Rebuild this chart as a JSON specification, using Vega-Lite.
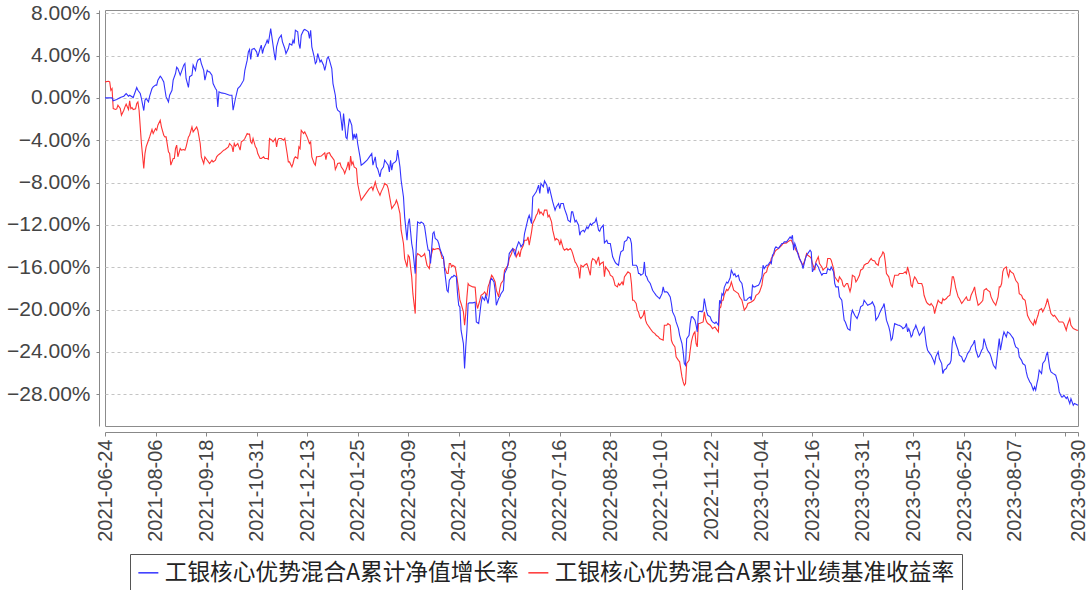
{
"$schema":"https://vega.github.io/schema/vega-lite/v6.json",
"width":973,"height":416,
"autosize":{"type":"none"},
"padding":{"left":105,"top":10,"right":13,"bottom":164},
"background":"white",
"config":{"view":{"stroke":"#8c8c8c","strokeWidth":1},"font":"Liberation Sans"},
"datasets":{
"fund":[
{"date":"2021-06-24","value":0},{"date":"2021-06-30","value":0},{"date":"2021-07-01","value":-0.28},{"date":"2021-07-04","value":-0.16},{"date":"2021-07-07","value":0.03},{"date":"2021-07-10","value":0.16},{"date":"2021-07-12","value":0.41},{"date":"2021-07-14","value":0.16},{"date":"2021-07-15","value":0.25},{"date":"2021-07-18","value":0.03},{"date":"2021-07-21","value":0.97},{"date":"2021-07-22","value":0.72},{"date":"2021-07-24","value":0.41},{"date":"2021-07-25","value":-0.06},{"date":"2021-07-27","value":-1.2},{"date":"2021-07-28","value":-0.22},{"date":"2021-07-29","value":-0.06},{"date":"2021-07-31","value":-0.38},{"date":"2021-08-01","value":0.16},{"date":"2021-08-03","value":0.88},{"date":"2021-08-04","value":1.04},{"date":"2021-08-06","value":1.2},{"date":"2021-08-07","value":1.2},{"date":"2021-08-08","value":1.67},{"date":"2021-08-10","value":2.05},{"date":"2021-08-11","value":1.92},{"date":"2021-08-13","value":1.5},{"date":"2021-08-14","value":0.79},{"date":"2021-08-15","value":0.09},{"date":"2021-08-17","value":-0.38},{"date":"2021-08-18","value":0.25},{"date":"2021-08-20","value":0.72},{"date":"2021-08-21","value":1.67},{"date":"2021-08-23","value":2.3},{"date":"2021-08-24","value":2.9},{"date":"2021-08-25","value":2.77},{"date":"2021-08-27","value":2.14},{"date":"2021-08-28","value":2.46},{"date":"2021-08-30","value":3.09},{"date":"2021-08-31","value":3.24},{"date":"2021-09-01","value":1.83},{"date":"2021-09-03","value":0.98},{"date":"2021-09-04","value":2.0},{"date":"2021-09-06","value":2.14},{"date":"2021-09-07","value":3.09},{"date":"2021-09-09","value":2.6},{"date":"2021-09-10","value":3.24},{"date":"2021-09-11","value":3.56},{"date":"2021-09-13","value":3.7},{"date":"2021-09-14","value":3.24},{"date":"2021-09-16","value":2.6},{"date":"2021-09-17","value":1.67},{"date":"2021-09-19","value":2.6},{"date":"2021-09-20","value":2.46},{"date":"2021-09-21","value":2.46},{"date":"2021-09-23","value":2.14},{"date":"2021-09-24","value":1.35},{"date":"2021-09-26","value":0.88},{"date":"2021-09-27","value":0.72},{"date":"2021-09-28","value":-0.85},{"date":"2021-09-29","value":0.57},{"date":"2021-10-01","value":0.47},{"date":"2021-10-04","value":0.41},{"date":"2021-10-08","value":0.25},{"date":"2021-10-10","value":0.25},{"date":"2021-10-11","value":-1.17},{"date":"2021-10-13","value":-0.06},{"date":"2021-10-15","value":0.88},{"date":"2021-10-17","value":1.1},{"date":"2021-10-20","value":1.67},{"date":"2021-10-21","value":2.6},{"date":"2021-10-23","value":3.56},{"date":"2021-10-24","value":4.35},{"date":"2021-10-25","value":4.57},{"date":"2021-10-26","value":3.62},{"date":"2021-10-27","value":4.57},{"date":"2021-10-29","value":4.66},{"date":"2021-10-31","value":4.35},{"date":"2021-11-01","value":3.87},{"date":"2021-11-03","value":4.66},{"date":"2021-11-04","value":4.98},{"date":"2021-11-05","value":4.19},{"date":"2021-11-06","value":4.66},{"date":"2021-11-08","value":5.13},{"date":"2021-11-09","value":5.45},{"date":"2021-11-10","value":5.13},{"date":"2021-11-12","value":6.54},{"date":"2021-11-13","value":5.76},{"date":"2021-11-15","value":4.19},{"date":"2021-11-16","value":3.56},{"date":"2021-11-17","value":4.82},{"date":"2021-11-19","value":5.61},{"date":"2021-11-21","value":5.92},{"date":"2021-11-22","value":5.29},{"date":"2021-11-24","value":4.66},{"date":"2021-11-25","value":4.19},{"date":"2021-11-27","value":4.66},{"date":"2021-11-28","value":5.13},{"date":"2021-11-30","value":4.98},{"date":"2021-12-01","value":5.45},{"date":"2021-12-02","value":5.13},{"date":"2021-12-03","value":6.39},{"date":"2021-12-05","value":6.24},{"date":"2021-12-06","value":5.13},{"date":"2021-12-07","value":4.66},{"date":"2021-12-08","value":5.92},{"date":"2021-12-10","value":6.39},{"date":"2021-12-11","value":6.46},{"date":"2021-12-13","value":6.33},{"date":"2021-12-14","value":6.24},{"date":"2021-12-15","value":5.61},{"date":"2021-12-16","value":6.39},{"date":"2021-12-17","value":4.82},{"date":"2021-12-19","value":3.87},{"date":"2021-12-20","value":3.24},{"date":"2021-12-21","value":3.4},{"date":"2021-12-22","value":4.19},{"date":"2021-12-24","value":3.4},{"date":"2021-12-25","value":3.56},{"date":"2021-12-27","value":3.09},{"date":"2021-12-28","value":2.6},{"date":"2021-12-29","value":3.09},{"date":"2021-12-30","value":3.72},{"date":"2021-12-31","value":3.87},{"date":"2022-01-01","value":3.56},{"date":"2022-01-03","value":2.77},{"date":"2022-01-04","value":1.35},{"date":"2022-01-06","value":0.25},{"date":"2022-01-07","value":-0.85},{"date":"2022-01-08","value":-1.17},{"date":"2022-01-10","value":-1.33},{"date":"2022-01-11","value":-2.14},{"date":"2022-01-12","value":-3.09},{"date":"2022-01-13","value":-1.48},{"date":"2022-01-14","value":-2.6},{"date":"2022-01-15","value":-3.72},{"date":"2022-01-16","value":-3.87},{"date":"2022-01-17","value":-2.74},{"date":"2022-01-18","value":-1.96},{"date":"2022-01-20","value":-2.6},{"date":"2022-01-21","value":-3.97},{"date":"2022-01-22","value":-3.4},{"date":"2022-01-23","value":-3.84},{"date":"2022-01-24","value":-3.37},{"date":"2022-01-25","value":-4.31},{"date":"2022-01-27","value":-5.57},{"date":"2022-01-28","value":-6.36},{"date":"2022-01-30","value":-6.2},{"date":"2022-02-02","value":-5.89},{"date":"2022-02-04","value":-5.57},{"date":"2022-02-06","value":-5.26},{"date":"2022-02-07","value":-6.36},{"date":"2022-02-09","value":-5.57},{"date":"2022-02-10","value":-6.52},{"date":"2022-02-11","value":-6.68},{"date":"2022-02-13","value":-7.46},{"date":"2022-02-14","value":-6.83},{"date":"2022-02-16","value":-6.52},{"date":"2022-02-17","value":-5.89},{"date":"2022-02-19","value":-6.2},{"date":"2022-02-20","value":-6.36},{"date":"2022-02-21","value":-6.99},{"date":"2022-02-22","value":-5.89},{"date":"2022-02-23","value":-6.83},{"date":"2022-02-24","value":-6.2},{"date":"2022-02-26","value":-6.05},{"date":"2022-02-27","value":-5.89},{"date":"2022-02-28","value":-4.94},{"date":"2022-03-02","value":-6.52},{"date":"2022-03-03","value":-7.78},{"date":"2022-03-05","value":-9.36},{"date":"2022-03-06","value":-11.24},{"date":"2022-03-08","value":-13.45},{"date":"2022-03-09","value":-11.87},{"date":"2022-03-10","value":-11.4},{"date":"2022-03-12","value":-13.76},{"date":"2022-03-13","value":-14.39},{"date":"2022-03-15","value":-16.6},{"date":"2022-03-16","value":-13.76},{"date":"2022-03-17","value":-11.72},{"date":"2022-03-19","value":-11.87},{"date":"2022-03-20","value":-11.72},{"date":"2022-03-22","value":-11.87},{"date":"2022-03-23","value":-12.19},{"date":"2022-03-25","value":-13.76},{"date":"2022-03-26","value":-14.39},{"date":"2022-03-27","value":-14.39},{"date":"2022-03-28","value":-15.65},{"date":"2022-03-30","value":-12.82},{"date":"2022-03-31","value":-12.66},{"date":"2022-04-01","value":-13.29},{"date":"2022-04-03","value":-13.45},{"date":"2022-04-04","value":-13.76},{"date":"2022-04-05","value":-14.24},{"date":"2022-04-07","value":-14.87},{"date":"2022-04-08","value":-15.02},{"date":"2022-04-09","value":-16.28},{"date":"2022-04-11","value":-18.17},{"date":"2022-04-12","value":-18.33},{"date":"2022-04-13","value":-17.23},{"date":"2022-04-14","value":-17.07},{"date":"2022-04-15","value":-16.91},{"date":"2022-04-16","value":-16.91},{"date":"2022-04-17","value":-16.76},{"date":"2022-04-19","value":-16.91},{"date":"2022-04-20","value":-18.5},{"date":"2022-04-21","value":-19.59},{"date":"2022-04-22","value":-19.75},{"date":"2022-04-23","value":-21.95},{"date":"2022-04-25","value":-23.21},{"date":"2022-04-26","value":-25.57},{"date":"2022-04-27","value":-23.53},{"date":"2022-04-28","value":-21.95},{"date":"2022-04-29","value":-19.43},{"date":"2022-04-30","value":-19.37},{"date":"2022-05-03","value":-19.37},{"date":"2022-05-05","value":-19.3},{"date":"2022-05-06","value":-21.17},{"date":"2022-05-08","value":-21.32},{"date":"2022-05-10","value":-19.43},{"date":"2022-05-11","value":-18.8},{"date":"2022-05-13","value":-19.12},{"date":"2022-05-14","value":-18.65},{"date":"2022-05-16","value":-19.43},{"date":"2022-05-17","value":-18.65},{"date":"2022-05-18","value":-17.23},{"date":"2022-05-19","value":-17.07},{"date":"2022-05-21","value":-17.39},{"date":"2022-05-22","value":-18.17},{"date":"2022-05-23","value":-19.59},{"date":"2022-05-25","value":-18.96},{"date":"2022-05-26","value":-18.8},{"date":"2022-05-27","value":-18.5},{"date":"2022-05-29","value":-18.17},{"date":"2022-05-30","value":-16.6},{"date":"2022-06-01","value":-16.13},{"date":"2022-06-02","value":-15.65},{"date":"2022-06-03","value":-14.71},{"date":"2022-06-05","value":-14.39},{"date":"2022-06-06","value":-14.24},{"date":"2022-06-08","value":-14.87},{"date":"2022-06-09","value":-14.24},{"date":"2022-06-11","value":-13.61},{"date":"2022-06-12","value":-13.76},{"date":"2022-06-13","value":-14.08},{"date":"2022-06-15","value":-13.76},{"date":"2022-06-16","value":-12.82},{"date":"2022-06-18","value":-11.87},{"date":"2022-06-19","value":-11.4},{"date":"2022-06-20","value":-11.09},{"date":"2022-06-22","value":-11.87},{"date":"2022-06-23","value":-9.35},{"date":"2022-06-25","value":-9.04},{"date":"2022-06-26","value":-8.88},{"date":"2022-06-28","value":-8.25},{"date":"2022-06-29","value":-9.04},{"date":"2022-06-30","value":-8.09},{"date":"2022-07-02","value":-8.41},{"date":"2022-07-03","value":-7.84},{"date":"2022-07-05","value":-8.25},{"date":"2022-07-06","value":-9.04},{"date":"2022-07-07","value":-8.41},{"date":"2022-07-09","value":-9.35},{"date":"2022-07-10","value":-9.83},{"date":"2022-07-12","value":-10.61},{"date":"2022-07-13","value":-10.3},{"date":"2022-07-15","value":-9.98},{"date":"2022-07-16","value":-10.46},{"date":"2022-07-17","value":-9.98},{"date":"2022-07-19","value":-9.98},{"date":"2022-07-20","value":-10.46},{"date":"2022-07-22","value":-11.09},{"date":"2022-07-23","value":-11.56},{"date":"2022-07-25","value":-11.72},{"date":"2022-07-26","value":-10.77},{"date":"2022-07-27","value":-10.77},{"date":"2022-07-29","value":-11.72},{"date":"2022-07-30","value":-11.56},{"date":"2022-08-01","value":-12.03},{"date":"2022-08-02","value":-12.98},{"date":"2022-08-03","value":-12.66},{"date":"2022-08-05","value":-12.5},{"date":"2022-08-06","value":-12.66},{"date":"2022-08-08","value":-12.19},{"date":"2022-08-09","value":-12.35},{"date":"2022-08-11","value":-11.87},{"date":"2022-08-12","value":-12.03},{"date":"2022-08-13","value":-11.87},{"date":"2022-08-15","value":-11.72},{"date":"2022-08-16","value":-11.4},{"date":"2022-08-18","value":-12.5},{"date":"2022-08-19","value":-12.6},{"date":"2022-08-20","value":-12.3},{"date":"2022-08-22","value":-12.03},{"date":"2022-08-23","value":-13.7},{"date":"2022-08-25","value":-13.45},{"date":"2022-08-26","value":-13.76},{"date":"2022-08-28","value":-13.76},{"date":"2022-08-29","value":-14.39},{"date":"2022-08-30","value":-15.02},{"date":"2022-09-01","value":-15.5},{"date":"2022-09-02","value":-15.65},{"date":"2022-09-04","value":-15.81},{"date":"2022-09-05","value":-15.02},{"date":"2022-09-06","value":-14.55},{"date":"2022-09-08","value":-14.39},{"date":"2022-09-09","value":-13.61},{"date":"2022-09-11","value":-13.45},{"date":"2022-09-12","value":-13.13},{"date":"2022-09-14","value":-13.29},{"date":"2022-09-15","value":-13.76},{"date":"2022-09-16","value":-15.81},{"date":"2022-09-17","value":-15.81},{"date":"2022-09-19","value":-15.81},{"date":"2022-09-20","value":-15.97},{"date":"2022-09-21","value":-16.6},{"date":"2022-09-22","value":-16.6},{"date":"2022-09-23","value":-16.76},{"date":"2022-09-25","value":-16.6},{"date":"2022-09-26","value":-15.5},{"date":"2022-09-27","value":-16.76},{"date":"2022-09-28","value":-16.91},{"date":"2022-09-29","value":-17.23},{"date":"2022-10-01","value":-17.54},{"date":"2022-10-02","value":-17.86},{"date":"2022-10-03","value":-18.17},{"date":"2022-10-05","value":-18.5},{"date":"2022-10-06","value":-18.65},{"date":"2022-10-08","value":-18.87},{"date":"2022-10-09","value":-18.96},{"date":"2022-10-11","value":-18.5},{"date":"2022-10-12","value":-17.86},{"date":"2022-10-13","value":-18.33},{"date":"2022-10-15","value":-18.33},{"date":"2022-10-16","value":-18.43},{"date":"2022-10-18","value":-18.8},{"date":"2022-10-19","value":-19.43},{"date":"2022-10-20","value":-20.22},{"date":"2022-10-22","value":-20.69},{"date":"2022-10-23","value":-21.17},{"date":"2022-10-25","value":-21.8},{"date":"2022-10-26","value":-22.43},{"date":"2022-10-28","value":-23.21},{"date":"2022-10-29","value":-24.0},{"date":"2022-10-30","value":-25.1},{"date":"2022-10-31","value":-25.26},{"date":"2022-11-01","value":-22.74},{"date":"2022-11-03","value":-22.43},{"date":"2022-11-04","value":-21.32},{"date":"2022-11-05","value":-20.69},{"date":"2022-11-06","value":-20.69},{"date":"2022-11-08","value":-21.0},{"date":"2022-11-09","value":-21.48},{"date":"2022-11-10","value":-22.11},{"date":"2022-11-11","value":-20.22},{"date":"2022-11-12","value":-20.16},{"date":"2022-11-14","value":-20.22},{"date":"2022-11-15","value":-20.06},{"date":"2022-11-16","value":-18.96},{"date":"2022-11-17","value":-19.59},{"date":"2022-11-18","value":-20.22},{"date":"2022-11-19","value":-20.54},{"date":"2022-11-21","value":-20.69},{"date":"2022-11-22","value":-21.0},{"date":"2022-11-23","value":-21.17},{"date":"2022-11-25","value":-21.32},{"date":"2022-11-26","value":-21.17},{"date":"2022-11-28","value":-21.48},{"date":"2022-11-29","value":-19.12},{"date":"2022-11-30","value":-19.43},{"date":"2022-12-01","value":-18.5},{"date":"2022-12-02","value":-18.65},{"date":"2022-12-03","value":-17.9},{"date":"2022-12-05","value":-17.4},{"date":"2022-12-06","value":-17.5},{"date":"2022-12-08","value":-17.0},{"date":"2022-12-09","value":-16.28},{"date":"2022-12-11","value":-16.76},{"date":"2022-12-12","value":-16.6},{"date":"2022-12-13","value":-16.91},{"date":"2022-12-15","value":-16.76},{"date":"2022-12-16","value":-17.23},{"date":"2022-12-18","value":-17.54},{"date":"2022-12-19","value":-18.17},{"date":"2022-12-20","value":-19.12},{"date":"2022-12-22","value":-19.12},{"date":"2022-12-23","value":-18.96},{"date":"2022-12-25","value":-18.8},{"date":"2022-12-26","value":-19.12},{"date":"2022-12-27","value":-17.7},{"date":"2022-12-28","value":-17.86},{"date":"2022-12-29","value":-17.86},{"date":"2022-12-30","value":-17.8},{"date":"2023-01-01","value":-17.7},{"date":"2023-01-02","value":-17.54},{"date":"2023-01-04","value":-16.91},{"date":"2023-01-05","value":-15.81},{"date":"2023-01-06","value":-16.13},{"date":"2023-01-07","value":-15.97},{"date":"2023-01-08","value":-15.81},{"date":"2023-01-09","value":-15.81},{"date":"2023-01-11","value":-15.5},{"date":"2023-01-12","value":-15.65},{"date":"2023-01-13","value":-14.87},{"date":"2023-01-14","value":-14.71},{"date":"2023-01-15","value":-14.24},{"date":"2023-01-16","value":-14.08},{"date":"2023-01-18","value":-14.24},{"date":"2023-01-19","value":-14.08},{"date":"2023-01-21","value":-13.76},{"date":"2023-01-22","value":-13.76},{"date":"2023-01-23","value":-13.61},{"date":"2023-01-25","value":-13.61},{"date":"2023-01-26","value":-13.45},{"date":"2023-01-28","value":-13.13},{"date":"2023-01-29","value":-13.29},{"date":"2023-01-30","value":-12.98},{"date":"2023-01-31","value":-14.39},{"date":"2023-02-01","value":-13.76},{"date":"2023-02-02","value":-14.08},{"date":"2023-02-04","value":-14.87},{"date":"2023-02-05","value":-15.18},{"date":"2023-02-07","value":-15.65},{"date":"2023-02-08","value":-16.13},{"date":"2023-02-10","value":-15.18},{"date":"2023-02-11","value":-14.87},{"date":"2023-02-12","value":-14.71},{"date":"2023-02-14","value":-14.39},{"date":"2023-02-15","value":-14.55},{"date":"2023-02-16","value":-16.44},{"date":"2023-02-18","value":-15.97},{"date":"2023-02-19","value":-15.65},{"date":"2023-02-21","value":-15.97},{"date":"2023-02-22","value":-16.28},{"date":"2023-02-24","value":-16.76},{"date":"2023-02-25","value":-16.6},{"date":"2023-02-26","value":-16.6},{"date":"2023-02-28","value":-16.6},{"date":"2023-03-01","value":-16.13},{"date":"2023-03-03","value":-16.28},{"date":"2023-03-04","value":-15.97},{"date":"2023-03-06","value":-16.44},{"date":"2023-03-07","value":-17.54},{"date":"2023-03-08","value":-17.86},{"date":"2023-03-10","value":-17.86},{"date":"2023-03-11","value":-18.8},{"date":"2023-03-13","value":-19.12},{"date":"2023-03-14","value":-20.06},{"date":"2023-03-15","value":-21.0},{"date":"2023-03-16","value":-21.17},{"date":"2023-03-17","value":-21.48},{"date":"2023-03-18","value":-21.8},{"date":"2023-03-20","value":-21.95},{"date":"2023-03-21","value":-20.5},{"date":"2023-03-22","value":-20.06},{"date":"2023-03-24","value":-20.54},{"date":"2023-03-25","value":-20.69},{"date":"2023-03-26","value":-20.85},{"date":"2023-03-28","value":-20.22},{"date":"2023-03-29","value":-19.75},{"date":"2023-03-31","value":-19.59},{"date":"2023-04-01","value":-19.12},{"date":"2023-04-03","value":-19.43},{"date":"2023-04-04","value":-19.59},{"date":"2023-04-07","value":-19.43},{"date":"2023-04-08","value":-19.28},{"date":"2023-04-10","value":-19.75},{"date":"2023-04-11","value":-21.0},{"date":"2023-04-13","value":-20.69},{"date":"2023-04-14","value":-20.38},{"date":"2023-04-16","value":-19.9},{"date":"2023-04-17","value":-19.75},{"date":"2023-04-18","value":-19.43},{"date":"2023-04-19","value":-20.22},{"date":"2023-04-20","value":-21.0},{"date":"2023-04-22","value":-21.64},{"date":"2023-04-23","value":-22.11},{"date":"2023-04-24","value":-22.9},{"date":"2023-04-25","value":-22.74},{"date":"2023-04-26","value":-21.95},{"date":"2023-04-27","value":-21.32},{"date":"2023-04-30","value":-21.48},{"date":"2023-05-01","value":-21.48},{"date":"2023-05-03","value":-21.64},{"date":"2023-05-04","value":-21.8},{"date":"2023-05-06","value":-21.64},{"date":"2023-05-07","value":-21.32},{"date":"2023-05-08","value":-22.11},{"date":"2023-05-09","value":-21.8},{"date":"2023-05-10","value":-22.11},{"date":"2023-05-11","value":-22.58},{"date":"2023-05-12","value":-22.43},{"date":"2023-05-13","value":-21.95},{"date":"2023-05-14","value":-21.8},{"date":"2023-05-15","value":-21.48},{"date":"2023-05-17","value":-22.11},{"date":"2023-05-18","value":-22.43},{"date":"2023-05-20","value":-22.11},{"date":"2023-05-21","value":-21.8},{"date":"2023-05-22","value":-21.64},{"date":"2023-05-24","value":-23.37},{"date":"2023-05-25","value":-23.84},{"date":"2023-05-27","value":-24.16},{"date":"2023-05-28","value":-24.31},{"date":"2023-05-30","value":-24.8},{"date":"2023-05-31","value":-25.1},{"date":"2023-06-01","value":-24.47},{"date":"2023-06-03","value":-24.0},{"date":"2023-06-04","value":-24.63},{"date":"2023-06-06","value":-25.1},{"date":"2023-06-07","value":-26.05},{"date":"2023-06-08","value":-25.73},{"date":"2023-06-10","value":-25.57},{"date":"2023-06-11","value":-25.26},{"date":"2023-06-13","value":-25.1},{"date":"2023-06-14","value":-24.8},{"date":"2023-06-15","value":-23.21},{"date":"2023-06-16","value":-22.58},{"date":"2023-06-17","value":-22.74},{"date":"2023-06-18","value":-23.21},{"date":"2023-06-20","value":-23.84},{"date":"2023-06-21","value":-24.31},{"date":"2023-06-23","value":-24.47},{"date":"2023-06-24","value":-24.8},{"date":"2023-06-25","value":-24.94},{"date":"2023-06-27","value":-24.47},{"date":"2023-06-28","value":-24.16},{"date":"2023-06-30","value":-23.84},{"date":"2023-07-01","value":-23.53},{"date":"2023-07-03","value":-23.21},{"date":"2023-07-04","value":-22.9},{"date":"2023-07-05","value":-23.8},{"date":"2023-07-07","value":-24.5},{"date":"2023-07-08","value":-24.4},{"date":"2023-07-10","value":-23.84},{"date":"2023-07-11","value":-23.68},{"date":"2023-07-12","value":-22.74},{"date":"2023-07-14","value":-23.53},{"date":"2023-07-15","value":-23.84},{"date":"2023-07-17","value":-24.16},{"date":"2023-07-18","value":-24.47},{"date":"2023-07-20","value":-25.26},{"date":"2023-07-21","value":-25.42},{"date":"2023-07-22","value":-25.57},{"date":"2023-07-24","value":-23.68},{"date":"2023-07-25","value":-22.74},{"date":"2023-07-26","value":-23.84},{"date":"2023-07-27","value":-23.21},{"date":"2023-07-28","value":-22.58},{"date":"2023-07-29","value":-22.11},{"date":"2023-07-31","value":-22.58},{"date":"2023-08-01","value":-22.11},{"date":"2023-08-03","value":-22.27},{"date":"2023-08-04","value":-22.43},{"date":"2023-08-06","value":-22.74},{"date":"2023-08-07","value":-23.21},{"date":"2023-08-08","value":-23.53},{"date":"2023-08-10","value":-23.68},{"date":"2023-08-11","value":-24.47},{"date":"2023-08-13","value":-24.8},{"date":"2023-08-14","value":-25.1},{"date":"2023-08-16","value":-25.26},{"date":"2023-08-17","value":-25.89},{"date":"2023-08-18","value":-26.36},{"date":"2023-08-20","value":-26.84},{"date":"2023-08-21","value":-26.99},{"date":"2023-08-23","value":-27.62},{"date":"2023-08-24","value":-27.31},{"date":"2023-08-25","value":-27.62},{"date":"2023-08-26","value":-26.99},{"date":"2023-08-27","value":-26.52},{"date":"2023-08-28","value":-25.73},{"date":"2023-08-30","value":-26.05},{"date":"2023-08-31","value":-25.1},{"date":"2023-09-02","value":-24.8},{"date":"2023-09-03","value":-24.31},{"date":"2023-09-04","value":-24.0},{"date":"2023-09-05","value":-24.8},{"date":"2023-09-06","value":-25.57},{"date":"2023-09-07","value":-25.89},{"date":"2023-09-09","value":-26.05},{"date":"2023-09-11","value":-26.2},{"date":"2023-09-13","value":-26.99},{"date":"2023-09-14","value":-27.78},{"date":"2023-09-16","value":-28.25},{"date":"2023-09-17","value":-28.25},{"date":"2023-09-18","value":-28.09},{"date":"2023-09-20","value":-28.41},{"date":"2023-09-21","value":-28.25},{"date":"2023-09-23","value":-28.88},{"date":"2023-09-24","value":-28.41},{"date":"2023-09-26","value":-29.04},{"date":"2023-09-27","value":-28.88},{"date":"2023-09-30","value":-29.04}
],
"benchmark":[
{"date":"2021-06-24","value":1.51},{"date":"2021-06-27","value":1.57},{"date":"2021-06-28","value":1.51},{"date":"2021-06-29","value":0.72},{"date":"2021-06-30","value":0.88},{"date":"2021-07-01","value":-1.01},{"date":"2021-07-03","value":-1.1},{"date":"2021-07-04","value":-1.04},{"date":"2021-07-05","value":-0.69},{"date":"2021-07-07","value":-1.01},{"date":"2021-07-08","value":-1.64},{"date":"2021-07-10","value":-1.17},{"date":"2021-07-11","value":-0.85},{"date":"2021-07-12","value":-0.6},{"date":"2021-07-14","value":-1.1},{"date":"2021-07-15","value":-0.28},{"date":"2021-07-16","value":-1.01},{"date":"2021-07-17","value":-0.91},{"date":"2021-07-18","value":-1.1},{"date":"2021-07-20","value":-1.04},{"date":"2021-07-21","value":-0.54},{"date":"2021-07-22","value":-0.38},{"date":"2021-07-23","value":-1.17},{"date":"2021-07-24","value":-2.74},{"date":"2021-07-25","value":-4.31},{"date":"2021-07-27","value":-6.68},{"date":"2021-07-28","value":-5.26},{"date":"2021-07-29","value":-4.63},{"date":"2021-07-31","value":-4.0},{"date":"2021-08-01","value":-3.69},{"date":"2021-08-03","value":-2.99},{"date":"2021-08-04","value":-3.37},{"date":"2021-08-06","value":-2.9},{"date":"2021-08-07","value":-3.06},{"date":"2021-08-08","value":-2.58},{"date":"2021-08-10","value":-2.11},{"date":"2021-08-11","value":-2.74},{"date":"2021-08-13","value":-3.53},{"date":"2021-08-14","value":-3.69},{"date":"2021-08-15","value":-3.69},{"date":"2021-08-17","value":-5.1},{"date":"2021-08-18","value":-5.26},{"date":"2021-08-19","value":-6.36},{"date":"2021-08-21","value":-5.73},{"date":"2021-08-22","value":-5.73},{"date":"2021-08-23","value":-4.79},{"date":"2021-08-24","value":-4.47},{"date":"2021-08-25","value":-5.57},{"date":"2021-08-27","value":-4.79},{"date":"2021-08-28","value":-4.94},{"date":"2021-08-30","value":-4.88},{"date":"2021-08-31","value":-4.94},{"date":"2021-09-01","value":-4.63},{"date":"2021-09-03","value":-3.69},{"date":"2021-09-04","value":-3.53},{"date":"2021-09-06","value":-2.74},{"date":"2021-09-07","value":-3.21},{"date":"2021-09-09","value":-2.9},{"date":"2021-09-10","value":-2.74},{"date":"2021-09-11","value":-3.06},{"date":"2021-09-13","value":-4.31},{"date":"2021-09-14","value":-5.57},{"date":"2021-09-16","value":-6.2},{"date":"2021-09-17","value":-5.57},{"date":"2021-09-19","value":-5.89},{"date":"2021-09-20","value":-6.05},{"date":"2021-09-21","value":-6.2},{"date":"2021-09-23","value":-5.89},{"date":"2021-09-24","value":-6.05},{"date":"2021-09-26","value":-5.89},{"date":"2021-09-27","value":-5.57},{"date":"2021-09-28","value":-5.43},{"date":"2021-09-30","value":-5.26},{"date":"2021-10-03","value":-4.94},{"date":"2021-10-04","value":-4.9},{"date":"2021-10-07","value":-4.63},{"date":"2021-10-08","value":-4.31},{"date":"2021-10-10","value":-4.57},{"date":"2021-10-11","value":-5.1},{"date":"2021-10-12","value":-4.31},{"date":"2021-10-13","value":-4.57},{"date":"2021-10-15","value":-4.31},{"date":"2021-10-16","value":-4.63},{"date":"2021-10-17","value":-4.94},{"date":"2021-10-18","value":-4.16},{"date":"2021-10-20","value":-4.0},{"date":"2021-10-21","value":-3.84},{"date":"2021-10-23","value":-3.37},{"date":"2021-10-24","value":-3.43},{"date":"2021-10-25","value":-3.43},{"date":"2021-10-26","value":-4.16},{"date":"2021-10-27","value":-4.31},{"date":"2021-10-28","value":-3.84},{"date":"2021-10-30","value":-4.63},{"date":"2021-10-31","value":-4.79},{"date":"2021-11-01","value":-5.26},{"date":"2021-11-03","value":-5.73},{"date":"2021-11-04","value":-5.73},{"date":"2021-11-06","value":-5.57},{"date":"2021-11-07","value":-5.73},{"date":"2021-11-09","value":-5.73},{"date":"2021-11-10","value":-5.8},{"date":"2021-11-11","value":-3.84},{"date":"2021-11-13","value":-4.0},{"date":"2021-11-14","value":-4.16},{"date":"2021-11-16","value":-3.84},{"date":"2021-11-17","value":-4.63},{"date":"2021-11-18","value":-4.0},{"date":"2021-11-19","value":-3.84},{"date":"2021-11-21","value":-3.84},{"date":"2021-11-23","value":-4.0},{"date":"2021-11-24","value":-3.84},{"date":"2021-11-26","value":-5.26},{"date":"2021-11-27","value":-6.05},{"date":"2021-11-28","value":-6.05},{"date":"2021-11-30","value":-6.52},{"date":"2021-12-01","value":-6.2},{"date":"2021-12-02","value":-5.73},{"date":"2021-12-03","value":-5.57},{"date":"2021-12-05","value":-5.73},{"date":"2021-12-06","value":-4.63},{"date":"2021-12-07","value":-4.79},{"date":"2021-12-08","value":-3.06},{"date":"2021-12-10","value":-3.37},{"date":"2021-12-11","value":-3.21},{"date":"2021-12-13","value":-3.69},{"date":"2021-12-14","value":-4.0},{"date":"2021-12-15","value":-4.31},{"date":"2021-12-16","value":-4.16},{"date":"2021-12-17","value":-5.57},{"date":"2021-12-19","value":-6.2},{"date":"2021-12-20","value":-6.36},{"date":"2021-12-21","value":-5.57},{"date":"2021-12-22","value":-5.57},{"date":"2021-12-25","value":-5.5},{"date":"2021-12-28","value":-5.19},{"date":"2021-12-29","value":-5.83},{"date":"2021-12-30","value":-5.26},{"date":"2022-01-01","value":-5.19},{"date":"2022-01-02","value":-5.43},{"date":"2022-01-03","value":-5.57},{"date":"2022-01-05","value":-5.89},{"date":"2022-01-06","value":-6.77},{"date":"2022-01-07","value":-6.52},{"date":"2022-01-08","value":-6.2},{"date":"2022-01-10","value":-6.14},{"date":"2022-01-11","value":-6.52},{"date":"2022-01-13","value":-6.83},{"date":"2022-01-14","value":-7.15},{"date":"2022-01-15","value":-6.83},{"date":"2022-01-16","value":-6.52},{"date":"2022-01-17","value":-6.05},{"date":"2022-01-18","value":-6.83},{"date":"2022-01-19","value":-5.5},{"date":"2022-01-20","value":-6.3},{"date":"2022-01-21","value":-6.05},{"date":"2022-01-22","value":-6.52},{"date":"2022-01-24","value":-6.68},{"date":"2022-01-25","value":-8.09},{"date":"2022-01-27","value":-9.2},{"date":"2022-01-28","value":-9.67},{"date":"2022-01-30","value":-9.35},{"date":"2022-02-02","value":-8.88},{"date":"2022-02-04","value":-8.57},{"date":"2022-02-06","value":-8.41},{"date":"2022-02-07","value":-8.72},{"date":"2022-02-09","value":-7.94},{"date":"2022-02-10","value":-8.41},{"date":"2022-02-11","value":-8.72},{"date":"2022-02-13","value":-9.2},{"date":"2022-02-14","value":-8.88},{"date":"2022-02-16","value":-8.41},{"date":"2022-02-17","value":-8.09},{"date":"2022-02-19","value":-8.25},{"date":"2022-02-20","value":-8.57},{"date":"2022-02-21","value":-9.2},{"date":"2022-02-23","value":-10.46},{"date":"2022-02-24","value":-10.3},{"date":"2022-02-26","value":-9.98},{"date":"2022-02-27","value":-9.67},{"date":"2022-02-28","value":-9.98},{"date":"2022-03-02","value":-10.93},{"date":"2022-03-03","value":-12.5},{"date":"2022-03-05","value":-13.76},{"date":"2022-03-06","value":-15.18},{"date":"2022-03-08","value":-15.97},{"date":"2022-03-09","value":-14.87},{"date":"2022-03-10","value":-15.02},{"date":"2022-03-12","value":-16.91},{"date":"2022-03-13","value":-18.5},{"date":"2022-03-15","value":-20.38},{"date":"2022-03-16","value":-15.02},{"date":"2022-03-17","value":-14.71},{"date":"2022-03-19","value":-14.87},{"date":"2022-03-20","value":-15.02},{"date":"2022-03-22","value":-14.87},{"date":"2022-03-23","value":-14.71},{"date":"2022-03-25","value":-15.81},{"date":"2022-03-26","value":-15.97},{"date":"2022-03-27","value":-16.13},{"date":"2022-03-28","value":-15.18},{"date":"2022-03-30","value":-14.24},{"date":"2022-03-31","value":-14.33},{"date":"2022-04-03","value":-14.24},{"date":"2022-04-04","value":-14.24},{"date":"2022-04-05","value":-14.39},{"date":"2022-04-07","value":-15.18},{"date":"2022-04-08","value":-15.18},{"date":"2022-04-09","value":-15.97},{"date":"2022-04-11","value":-16.6},{"date":"2022-04-12","value":-16.6},{"date":"2022-04-13","value":-15.65},{"date":"2022-04-14","value":-15.65},{"date":"2022-04-15","value":-15.97},{"date":"2022-04-16","value":-15.81},{"date":"2022-04-18","value":-15.97},{"date":"2022-04-19","value":-16.6},{"date":"2022-04-21","value":-18.17},{"date":"2022-04-22","value":-19.12},{"date":"2022-04-23","value":-19.43},{"date":"2022-04-25","value":-20.22},{"date":"2022-04-26","value":-21.48},{"date":"2022-04-27","value":-20.38},{"date":"2022-04-28","value":-18.8},{"date":"2022-04-29","value":-17.54},{"date":"2022-04-30","value":-17.7},{"date":"2022-05-03","value":-17.86},{"date":"2022-05-05","value":-17.9},{"date":"2022-05-06","value":-19.3},{"date":"2022-05-07","value":-19.9},{"date":"2022-05-09","value":-19.12},{"date":"2022-05-10","value":-18.65},{"date":"2022-05-12","value":-18.5},{"date":"2022-05-13","value":-18.33},{"date":"2022-05-15","value":-18.65},{"date":"2022-05-16","value":-17.86},{"date":"2022-05-17","value":-17.54},{"date":"2022-05-19","value":-16.76},{"date":"2022-05-20","value":-16.91},{"date":"2022-05-22","value":-17.39},{"date":"2022-05-23","value":-18.17},{"date":"2022-05-25","value":-18.8},{"date":"2022-05-26","value":-18.01},{"date":"2022-05-27","value":-17.54},{"date":"2022-05-29","value":-17.23},{"date":"2022-05-30","value":-16.28},{"date":"2022-06-01","value":-15.97},{"date":"2022-06-02","value":-15.81},{"date":"2022-06-03","value":-15.18},{"date":"2022-06-05","value":-14.71},{"date":"2022-06-06","value":-14.24},{"date":"2022-06-08","value":-14.39},{"date":"2022-06-09","value":-15.02},{"date":"2022-06-11","value":-14.55},{"date":"2022-06-12","value":-15.02},{"date":"2022-06-13","value":-14.39},{"date":"2022-06-15","value":-13.92},{"date":"2022-06-16","value":-13.45},{"date":"2022-06-18","value":-13.45},{"date":"2022-06-19","value":-13.13},{"date":"2022-06-20","value":-13.92},{"date":"2022-06-22","value":-12.66},{"date":"2022-06-23","value":-11.87},{"date":"2022-06-25","value":-11.4},{"date":"2022-06-26","value":-11.09},{"date":"2022-06-27","value":-10.93},{"date":"2022-06-28","value":-10.46},{"date":"2022-06-29","value":-10.93},{"date":"2022-06-30","value":-10.77},{"date":"2022-07-02","value":-11.09},{"date":"2022-07-03","value":-10.61},{"date":"2022-07-05","value":-10.61},{"date":"2022-07-06","value":-11.24},{"date":"2022-07-07","value":-11.09},{"date":"2022-07-09","value":-11.72},{"date":"2022-07-10","value":-12.5},{"date":"2022-07-12","value":-13.45},{"date":"2022-07-13","value":-13.29},{"date":"2022-07-15","value":-13.45},{"date":"2022-07-16","value":-13.92},{"date":"2022-07-17","value":-13.45},{"date":"2022-07-19","value":-14.24},{"date":"2022-07-20","value":-14.39},{"date":"2022-07-22","value":-14.24},{"date":"2022-07-23","value":-14.39},{"date":"2022-07-25","value":-14.24},{"date":"2022-07-26","value":-14.39},{"date":"2022-07-27","value":-14.71},{"date":"2022-07-29","value":-15.5},{"date":"2022-07-30","value":-15.65},{"date":"2022-08-01","value":-16.13},{"date":"2022-08-02","value":-17.07},{"date":"2022-08-03","value":-15.81},{"date":"2022-08-05","value":-15.97},{"date":"2022-08-06","value":-15.81},{"date":"2022-08-08","value":-15.65},{"date":"2022-08-09","value":-15.97},{"date":"2022-08-11","value":-16.76},{"date":"2022-08-12","value":-15.5},{"date":"2022-08-13","value":-15.18},{"date":"2022-08-15","value":-15.34},{"date":"2022-08-16","value":-15.65},{"date":"2022-08-18","value":-15.02},{"date":"2022-08-19","value":-15.8},{"date":"2022-08-20","value":-15.65},{"date":"2022-08-22","value":-15.5},{"date":"2022-08-23","value":-16.9},{"date":"2022-08-24","value":-15.97},{"date":"2022-08-25","value":-16.13},{"date":"2022-08-27","value":-16.44},{"date":"2022-08-28","value":-16.76},{"date":"2022-08-30","value":-16.91},{"date":"2022-08-31","value":-17.23},{"date":"2022-09-01","value":-17.7},{"date":"2022-09-03","value":-17.86},{"date":"2022-09-04","value":-17.54},{"date":"2022-09-05","value":-17.7},{"date":"2022-09-07","value":-17.39},{"date":"2022-09-08","value":-17.7},{"date":"2022-09-09","value":-16.91},{"date":"2022-09-11","value":-16.6},{"date":"2022-09-12","value":-16.44},{"date":"2022-09-14","value":-16.6},{"date":"2022-09-15","value":-17.54},{"date":"2022-09-16","value":-19.12},{"date":"2022-09-17","value":-19.12},{"date":"2022-09-19","value":-19.43},{"date":"2022-09-20","value":-20.06},{"date":"2022-09-21","value":-20.22},{"date":"2022-09-22","value":-20.69},{"date":"2022-09-23","value":-20.85},{"date":"2022-09-25","value":-20.54},{"date":"2022-09-26","value":-20.06},{"date":"2022-09-27","value":-21.0},{"date":"2022-09-28","value":-21.32},{"date":"2022-09-29","value":-21.48},{"date":"2022-10-01","value":-21.8},{"date":"2022-10-02","value":-21.95},{"date":"2022-10-03","value":-22.11},{"date":"2022-10-05","value":-22.27},{"date":"2022-10-06","value":-22.43},{"date":"2022-10-08","value":-22.58},{"date":"2022-10-09","value":-22.74},{"date":"2022-10-12","value":-22.9},{"date":"2022-10-13","value":-21.48},{"date":"2022-10-15","value":-21.48},{"date":"2022-10-16","value":-21.32},{"date":"2022-10-18","value":-21.48},{"date":"2022-10-19","value":-22.9},{"date":"2022-10-20","value":-23.21},{"date":"2022-10-22","value":-23.53},{"date":"2022-10-23","value":-24.47},{"date":"2022-10-25","value":-24.8},{"date":"2022-10-26","value":-24.94},{"date":"2022-10-28","value":-26.36},{"date":"2022-10-29","value":-26.84},{"date":"2022-10-30","value":-27.15},{"date":"2022-10-31","value":-26.99},{"date":"2022-11-01","value":-25.1},{"date":"2022-11-03","value":-24.8},{"date":"2022-11-04","value":-23.84},{"date":"2022-11-05","value":-23.06},{"date":"2022-11-06","value":-22.58},{"date":"2022-11-07","value":-22.27},{"date":"2022-11-08","value":-22.11},{"date":"2022-11-09","value":-23.21},{"date":"2022-11-10","value":-23.53},{"date":"2022-11-11","value":-21.32},{"date":"2022-11-12","value":-21.32},{"date":"2022-11-15","value":-21.17},{"date":"2022-11-16","value":-20.22},{"date":"2022-11-17","value":-20.85},{"date":"2022-11-18","value":-21.17},{"date":"2022-11-19","value":-21.32},{"date":"2022-11-21","value":-21.48},{"date":"2022-11-22","value":-21.64},{"date":"2022-11-23","value":-21.8},{"date":"2022-11-25","value":-21.64},{"date":"2022-11-26","value":-21.8},{"date":"2022-11-28","value":-22.11},{"date":"2022-11-29","value":-19.9},{"date":"2022-11-30","value":-19.75},{"date":"2022-12-01","value":-19.12},{"date":"2022-12-02","value":-19.12},{"date":"2022-12-03","value":-18.6},{"date":"2022-12-05","value":-18.1},{"date":"2022-12-06","value":-18.2},{"date":"2022-12-08","value":-17.8},{"date":"2022-12-09","value":-17.39},{"date":"2022-12-11","value":-18.17},{"date":"2022-12-13","value":-18.33},{"date":"2022-12-15","value":-18.5},{"date":"2022-12-16","value":-18.8},{"date":"2022-12-18","value":-19.12},{"date":"2022-12-19","value":-19.59},{"date":"2022-12-20","value":-20.06},{"date":"2022-12-22","value":-19.75},{"date":"2022-12-23","value":-19.43},{"date":"2022-12-26","value":-19.28},{"date":"2022-12-28","value":-19.12},{"date":"2022-12-29","value":-18.96},{"date":"2022-12-30","value":-18.65},{"date":"2023-01-01","value":-18.5},{"date":"2023-01-02","value":-18.33},{"date":"2023-01-04","value":-17.7},{"date":"2023-01-05","value":-16.91},{"date":"2023-01-06","value":-16.6},{"date":"2023-01-08","value":-16.44},{"date":"2023-01-09","value":-15.97},{"date":"2023-01-11","value":-15.65},{"date":"2023-01-12","value":-15.18},{"date":"2023-01-14","value":-14.87},{"date":"2023-01-15","value":-14.55},{"date":"2023-01-16","value":-14.39},{"date":"2023-01-18","value":-14.24},{"date":"2023-01-19","value":-14.14},{"date":"2023-01-21","value":-13.92},{"date":"2023-01-22","value":-13.76},{"date":"2023-01-25","value":-13.7},{"date":"2023-01-26","value":-13.61},{"date":"2023-01-28","value":-13.45},{"date":"2023-01-29","value":-13.45},{"date":"2023-01-31","value":-13.92},{"date":"2023-02-01","value":-14.08},{"date":"2023-02-02","value":-14.39},{"date":"2023-02-04","value":-14.71},{"date":"2023-02-05","value":-15.18},{"date":"2023-02-07","value":-15.65},{"date":"2023-02-08","value":-15.81},{"date":"2023-02-10","value":-15.18},{"date":"2023-02-11","value":-14.71},{"date":"2023-02-12","value":-14.87},{"date":"2023-02-14","value":-15.02},{"date":"2023-02-15","value":-15.18},{"date":"2023-02-16","value":-15.65},{"date":"2023-02-18","value":-16.28},{"date":"2023-02-19","value":-15.5},{"date":"2023-02-21","value":-15.02},{"date":"2023-02-22","value":-15.65},{"date":"2023-02-24","value":-15.97},{"date":"2023-02-25","value":-16.28},{"date":"2023-02-26","value":-16.13},{"date":"2023-02-28","value":-15.97},{"date":"2023-03-01","value":-15.18},{"date":"2023-03-03","value":-15.18},{"date":"2023-03-04","value":-15.34},{"date":"2023-03-06","value":-16.13},{"date":"2023-03-07","value":-16.91},{"date":"2023-03-08","value":-17.07},{"date":"2023-03-10","value":-17.39},{"date":"2023-03-11","value":-16.91},{"date":"2023-03-13","value":-17.23},{"date":"2023-03-14","value":-17.7},{"date":"2023-03-15","value":-17.86},{"date":"2023-03-17","value":-17.54},{"date":"2023-03-18","value":-17.54},{"date":"2023-03-20","value":-18.3},{"date":"2023-03-21","value":-17.86},{"date":"2023-03-22","value":-16.76},{"date":"2023-03-24","value":-16.91},{"date":"2023-03-25","value":-17.39},{"date":"2023-03-26","value":-17.23},{"date":"2023-03-28","value":-16.76},{"date":"2023-03-29","value":-16.28},{"date":"2023-03-31","value":-16.13},{"date":"2023-04-01","value":-15.81},{"date":"2023-04-03","value":-15.65},{"date":"2023-04-04","value":-15.65},{"date":"2023-04-05","value":-15.5},{"date":"2023-04-07","value":-15.18},{"date":"2023-04-08","value":-15.34},{"date":"2023-04-10","value":-15.4},{"date":"2023-04-11","value":-15.65},{"date":"2023-04-13","value":-15.81},{"date":"2023-04-14","value":-15.18},{"date":"2023-04-16","value":-14.87},{"date":"2023-04-17","value":-14.55},{"date":"2023-04-18","value":-14.71},{"date":"2023-04-19","value":-15.5},{"date":"2023-04-20","value":-16.6},{"date":"2023-04-22","value":-16.91},{"date":"2023-04-23","value":-17.39},{"date":"2023-04-24","value":-17.7},{"date":"2023-04-25","value":-17.86},{"date":"2023-04-26","value":-17.23},{"date":"2023-04-27","value":-16.76},{"date":"2023-04-30","value":-16.76},{"date":"2023-05-01","value":-16.6},{"date":"2023-05-04","value":-16.6},{"date":"2023-05-06","value":-16.44},{"date":"2023-05-07","value":-16.6},{"date":"2023-05-08","value":-15.97},{"date":"2023-05-09","value":-16.44},{"date":"2023-05-10","value":-16.91},{"date":"2023-05-11","value":-17.7},{"date":"2023-05-12","value":-17.86},{"date":"2023-05-13","value":-17.23},{"date":"2023-05-14","value":-16.91},{"date":"2023-05-15","value":-17.07},{"date":"2023-05-17","value":-17.54},{"date":"2023-05-20","value":-17.54},{"date":"2023-05-21","value":-17.86},{"date":"2023-05-22","value":-18.65},{"date":"2023-05-24","value":-19.28},{"date":"2023-05-25","value":-19.43},{"date":"2023-05-27","value":-19.59},{"date":"2023-05-28","value":-19.43},{"date":"2023-05-30","value":-19.75},{"date":"2023-05-31","value":-20.38},{"date":"2023-06-01","value":-19.9},{"date":"2023-06-03","value":-19.12},{"date":"2023-06-04","value":-19.28},{"date":"2023-06-06","value":-19.43},{"date":"2023-06-07","value":-18.96},{"date":"2023-06-08","value":-19.12},{"date":"2023-06-10","value":-18.96},{"date":"2023-06-11","value":-18.8},{"date":"2023-06-13","value":-18.65},{"date":"2023-06-14","value":-17.86},{"date":"2023-06-15","value":-16.91},{"date":"2023-06-16","value":-16.91},{"date":"2023-06-17","value":-17.39},{"date":"2023-06-18","value":-18.01},{"date":"2023-06-20","value":-18.8},{"date":"2023-06-21","value":-18.96},{"date":"2023-06-23","value":-19.43},{"date":"2023-06-24","value":-19.28},{"date":"2023-06-25","value":-19.12},{"date":"2023-06-27","value":-18.8},{"date":"2023-06-28","value":-19.12},{"date":"2023-06-30","value":-19.12},{"date":"2023-07-01","value":-18.65},{"date":"2023-07-03","value":-18.17},{"date":"2023-07-04","value":-17.86},{"date":"2023-07-05","value":-18.6},{"date":"2023-07-07","value":-19.59},{"date":"2023-07-08","value":-19.5},{"date":"2023-07-10","value":-19.28},{"date":"2023-07-11","value":-19.12},{"date":"2023-07-12","value":-18.17},{"date":"2023-07-14","value":-18.01},{"date":"2023-07-15","value":-18.17},{"date":"2023-07-17","value":-18.33},{"date":"2023-07-18","value":-18.8},{"date":"2023-07-20","value":-19.28},{"date":"2023-07-21","value":-19.43},{"date":"2023-07-22","value":-19.59},{"date":"2023-07-24","value":-18.8},{"date":"2023-07-25","value":-17.86},{"date":"2023-07-26","value":-17.86},{"date":"2023-07-27","value":-17.54},{"date":"2023-07-28","value":-16.44},{"date":"2023-07-29","value":-16.13},{"date":"2023-07-31","value":-15.97},{"date":"2023-08-01","value":-16.6},{"date":"2023-08-02","value":-16.91},{"date":"2023-08-03","value":-16.28},{"date":"2023-08-04","value":-16.44},{"date":"2023-08-06","value":-16.6},{"date":"2023-08-07","value":-16.91},{"date":"2023-08-08","value":-17.23},{"date":"2023-08-10","value":-17.54},{"date":"2023-08-11","value":-18.5},{"date":"2023-08-13","value":-18.65},{"date":"2023-08-14","value":-18.96},{"date":"2023-08-16","value":-19.12},{"date":"2023-08-17","value":-19.75},{"date":"2023-08-18","value":-20.54},{"date":"2023-08-20","value":-21.01},{"date":"2023-08-21","value":-21.17},{"date":"2023-08-23","value":-21.48},{"date":"2023-08-24","value":-21.01},{"date":"2023-08-25","value":-21.32},{"date":"2023-08-26","value":-20.85},{"date":"2023-08-27","value":-20.54},{"date":"2023-08-28","value":-20.06},{"date":"2023-08-30","value":-19.9},{"date":"2023-08-31","value":-20.22},{"date":"2023-09-02","value":-19.75},{"date":"2023-09-03","value":-19.43},{"date":"2023-09-04","value":-18.96},{"date":"2023-09-05","value":-19.43},{"date":"2023-09-06","value":-19.9},{"date":"2023-09-07","value":-20.38},{"date":"2023-09-09","value":-20.63},{"date":"2023-09-10","value":-20.54},{"date":"2023-09-11","value":-20.69},{"date":"2023-09-13","value":-21.01},{"date":"2023-09-14","value":-21.17},{"date":"2023-09-17","value":-21.17},{"date":"2023-09-18","value":-21.32},{"date":"2023-09-20","value":-21.95},{"date":"2023-09-21","value":-21.48},{"date":"2023-09-23","value":-20.85},{"date":"2023-09-24","value":-21.48},{"date":"2023-09-26","value":-21.8},{"date":"2023-09-29","value":-21.95},{"date":"2023-09-30","value":-21.95}
]
},
"encoding":{
"x":{"field":"date","type":"temporal","scale":{"type":"utc","domain":[{"year":2021,"month":6,"date":24,"utc":true},{"year":2023,"month":9,"date":30,"utc":true}]},
"axis":{"title":null,"grid":false,"offset":6,"format":"%Y-%m-%d","labelAngle":270,"labelFontSize":20,"labelColor":"#444444","labelPadding":3,"labelOverlap":false,"labelBound":false,"labelFlush":false,"tickSize":4,"tickColor":"#888888","domainColor":"#888888",
"labelExpr":"datum.label == '2023-09-19' ? '' : datum.label",
"values":[{"year":2021,"month":6,"date":24,"utc":true},{"year":2021,"month":8,"date":6,"utc":true},{"year":2021,"month":9,"date":18,"utc":true},{"year":2021,"month":10,"date":31,"utc":true},{"year":2021,"month":12,"date":13,"utc":true},{"year":2022,"month":1,"date":25,"utc":true},{"year":2022,"month":3,"date":9,"utc":true},{"year":2022,"month":4,"date":21,"utc":true},{"year":2022,"month":6,"date":3,"utc":true},{"year":2022,"month":7,"date":16,"utc":true},{"year":2022,"month":8,"date":28,"utc":true},{"year":2022,"month":10,"date":10,"utc":true},{"year":2022,"month":11,"date":22,"utc":true},{"year":2023,"month":1,"date":4,"utc":true},{"year":2023,"month":2,"date":16,"utc":true},{"year":2023,"month":3,"date":31,"utc":true},{"year":2023,"month":5,"date":13,"utc":true},{"year":2023,"month":6,"date":25,"utc":true},{"year":2023,"month":8,"date":7,"utc":true},{"year":2023,"month":9,"date":19,"utc":true},{"year":2023,"month":9,"date":30,"utc":true}]}},
"y":{"field":"value","type":"quantitative","scale":{"domain":[-31,8.3],"nice":false,"zero":false},
"axis":{"title":null,"values":[-28,-24,-20,-16,-12,-8,-4,0,4,8],"labelExpr":"format(datum.value,'.2f') + '%'","offset":6,"tickSize":3,"labelPadding":6,"labelFontSize":21,"labelColor":"#444444","tickColor":"#888888","domainColor":"#888888","grid":true,"gridDash":[3,3],"gridColor":"#c4c4c4","gridWidth":1}}
},
"layer":[
{"data":{"name":"benchmark"},"mark":{"type":"line","strokeWidth":1.1,"interpolate":"linear"},
"encoding":{"color":{"datum":"工银核心优势混合A累计业绩基准收益率","type":"nominal",
"scale":{"domain":["工银核心优势混合A累计净值增长率","工银核心优势混合A累计业绩基准收益率"],"range":["#3333ff","#ff3333"]},
"legend":{"orient":"none","legendX":25,"legendY":544,"direction":"horizontal","title":null,"symbolType":"stroke","symbolSize":400,"symbolStrokeWidth":1.5,"labelFont":"Noto Sans CJK SC","labelFontSize":22.7,"labelColor":"#222222","labelLimit":1000,"labelOffset":5,"columnPadding":6,"strokeColor":"#555555","padding":7,"fillColor":"white"}}}},
{"data":{"name":"fund"},"mark":{"type":"line","strokeWidth":1.1,"interpolate":"linear"},
"encoding":{"color":{"datum":"工银核心优势混合A累计净值增长率","type":"nominal"}}}
]
}
